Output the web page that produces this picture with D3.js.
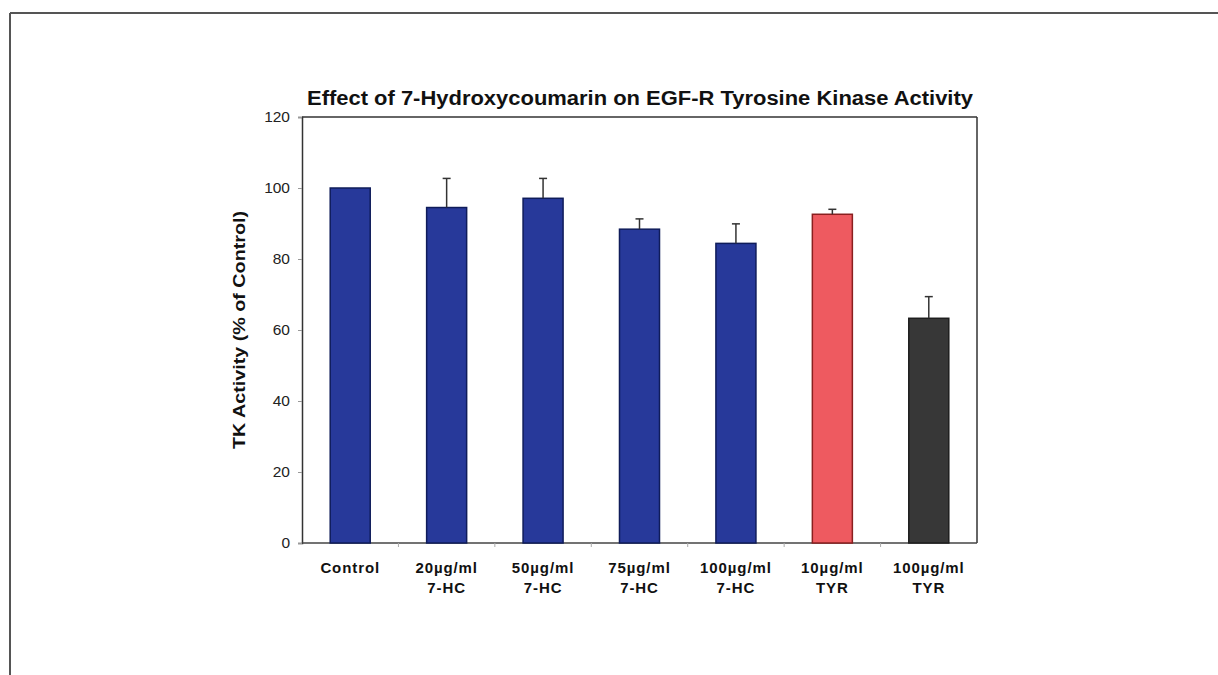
<!DOCTYPE html>
<html><head><meta charset="utf-8">
<script src="https://cdn.jsdelivr.net/npm/d3@7"></script>
<style>html,body{margin:0;padding:0;background:#fff;}svg{display:block;font-family:"Liberation Sans",Arial,sans-serif;}</style>
</head><body>
<script>
const categories = ["Control","20µg/ml\n7-HC","50µg/ml\n7-HC","75µg/ml\n7-HC","100µg/ml\n7-HC","10µg/ml\nTYR","100µg/ml\nTYR"];
const values = [100, 94.5, 97.1, 88.4, 84.4, 92.6, 63.3];
const errors = [0, 8.2, 5.6, 2.9, 5.5, 1.4, 6.1];
const barColors = ["#27399a","#27399a","#27399a","#27399a","#27399a","#ee5a60","#373737"];
const barStrokes = ["#0f1c5a","#0f1c5a","#0f1c5a","#0f1c5a","#0f1c5a","#8a1f1f","#1e1e1e"];
const yTicks = [0,20,40,60,80,100,120];
const title = "Effect of 7-Hydroxycoumarin on EGF-R Tyrosine Kinase Activity";
const yLabel = "TK Activity (% of Control)";

(function(){
const W = 1218, H = 675;
const svg = d3.select("body").append("svg").attr("width", W).attr("height", H);

// outer frame
svg.append("line").attr("x1",10).attr("y1",13).attr("x2",W).attr("y2",13).attr("stroke","#555").attr("stroke-width",2);
svg.append("line").attr("x1",10).attr("y1",13).attr("x2",10).attr("y2",H).attr("stroke","#555").attr("stroke-width",2);

const pL = 302, pR = 977, pT = 117, pB = 543;
const x = d3.scaleBand().domain(categories).range([pL, pR]).paddingInner(0.585).paddingOuter(0.2925);
const y = d3.scaleLinear().domain([0,120]).range([pB, pT]);

// plot frame top & right
svg.append("line").attr("x1",pL).attr("y1",pT).attr("x2",pR).attr("y2",pT).attr("stroke","#333").attr("stroke-width",1.5);
svg.append("line").attr("x1",pR).attr("y1",pT).attr("x2",pR).attr("y2",pB).attr("stroke","#333").attr("stroke-width",1.5);

// y axis
const yAxis = svg.append("g").attr("transform",`translate(${pL},0)`)
  .call(d3.axisLeft(y).tickValues(yTicks).tickSize(4).tickPadding(8));
yAxis.select(".domain").attr("stroke","#333").attr("stroke-width",1.5);
yAxis.selectAll(".tick line").attr("stroke","#999");
yAxis.selectAll(".tick text").attr("font-size",15.5).attr("fill","#222").attr("font-family","Liberation Sans, Arial, sans-serif");

// x axis
const band = x.step();
const bounds = categories.map((c,i)=> pL + band*(i+1)).slice(0,-1);
const xAxis = svg.append("g").attr("transform",`translate(0,${pB})`);
xAxis.append("line").attr("x1",pL).attr("x2",pR).attr("y1",0).attr("y2",0).attr("stroke","#444").attr("stroke-width",1.5);
xAxis.selectAll("line.tk").data(bounds).join("line").attr("class","tk")
  .attr("x1",d=>d).attr("x2",d=>d).attr("y1",0).attr("y2",4).attr("stroke","#aaa");

const lbl = xAxis.selectAll("text.cat").data(categories).join("text").attr("class","cat")
  .attr("x",d=>x(d)+x.bandwidth()/2).attr("y",30)
  .attr("text-anchor","middle").attr("font-size",15).attr("font-weight","bold").attr("fill","#111")
  .attr("letter-spacing","0.9px");
lbl.each(function(d){
  const parts = d.split("\n");
  const t = d3.select(this);
  parts.forEach((p,i)=>{
    t.append("tspan").attr("x", x(d)+x.bandwidth()/2).attr("dy", i===0?0:20).text(p);
  });
});

// bars
svg.selectAll("rect.bar").data(values).join("rect").attr("class","bar")
  .attr("x",(d,i)=>x(categories[i])).attr("width",x.bandwidth())
  .attr("y",d=>y(d)).attr("height",d=>y(0)-y(d))
  .attr("fill",(d,i)=>barColors[i]).attr("stroke",(d,i)=>barStrokes[i]).attr("stroke-width",1.5);

// error bars (upper only)
const errData = values.map((v,i)=>({v, e:errors[i], c:categories[i]})).filter(d=>d.e>0);
const eb = svg.selectAll("g.err").data(errData).join("g").attr("class","err");
eb.append("line").attr("x1",d=>x(d.c)+x.bandwidth()/2).attr("x2",d=>x(d.c)+x.bandwidth()/2)
  .attr("y1",d=>y(d.v)).attr("y2",d=>y(d.v+d.e)).attr("stroke","#333").attr("stroke-width",1.5);
eb.append("line").attr("x1",d=>x(d.c)+x.bandwidth()/2-4).attr("x2",d=>x(d.c)+x.bandwidth()/2+4)
  .attr("y1",d=>y(d.v+d.e)).attr("y2",d=>y(d.v+d.e)).attr("stroke","#333").attr("stroke-width",1.5);

// title
svg.append("text").attr("x",640).attr("y",105).attr("text-anchor","middle")
  .attr("font-size",20).attr("font-weight","bold").attr("fill","#111")
  .attr("textLength",666).attr("lengthAdjust","spacingAndGlyphs").text(title);

// y label
svg.append("text").attr("transform",`translate(245,${(pT+pB)/2}) rotate(-90)`)
  .attr("text-anchor","middle").attr("font-size",16).attr("font-weight","bold").attr("fill","#111")
  .attr("textLength",238).attr("lengthAdjust","spacingAndGlyphs").text(yLabel);
})();
</script>
</body></html>
